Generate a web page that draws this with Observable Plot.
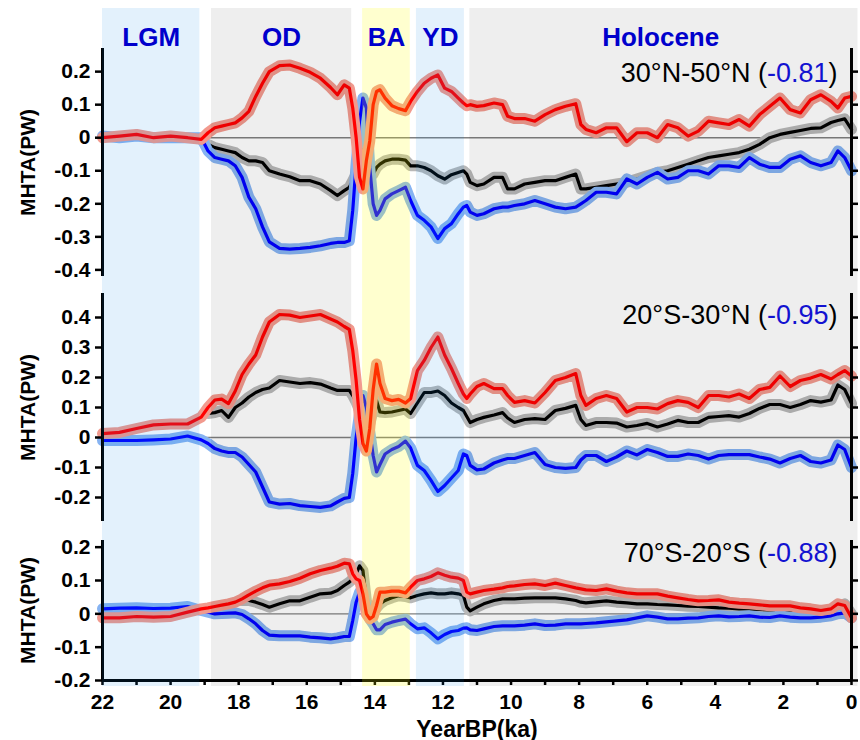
<!DOCTYPE html>
<html>
<head>
<meta charset="utf-8">
<script src="https://cdn.jsdelivr.net/npm/d3@7"></script>
<script src="https://cdn.jsdelivr.net/npm/@observablehq/plot@0.6"></script>
<style>
  body { margin: 0; background: #fff; }
  #chart { position: relative; width: 860px; height: 740px; }
  #chart > svg { position: absolute; left: 0; }
</style>
</head>
<body>
<div id="chart"></div>
<script>
// Time axis (ka BP), shared by every series
const years = [
  22, 21.5, 21, 20.5, 20, 19.5, 19.1, 18.9, 18.7, 18.5,
  18.3, 18.1, 17.9, 17.7, 17.5, 17.3, 17.1, 16.8, 16.5, 16.2,
  15.9, 15.6, 15.3, 15.1, 14.9, 14.75, 14.65, 14.55, 14.45, 14.35,
  14.25, 14.15, 14.05, 13.95, 13.85, 13.7, 13.5, 13.3, 13.1, 12.95,
  12.75, 12.55, 12.35, 12.15, 11.95, 11.75, 11.55, 11.4, 11.3, 11.2,
  11.0, 10.8, 10.5, 10.25, 10.1, 9.9, 9.6, 9.3, 9.0, 8.7,
  8.4, 8.1, 7.95, 7.8, 7.5, 7.2, 6.9, 6.6, 6.3, 6.0,
  5.7, 5.4, 5.1, 4.8, 4.5, 4.2, 3.9, 3.6, 3.3, 3.0,
  2.7, 2.4, 2.1, 1.8, 1.5, 1.2, 0.9, 0.6, 0.4, 0.2,
  0
];

// 30°N-50°N
const northRed = [
  0.0, 0.005, 0.01, 0.0, 0.005, 0.0, -0.005, 0.015, 0.03, 0.035,
  0.04, 0.045, 0.06, 0.08, 0.125, 0.165, 0.2, 0.218, 0.22, 0.21,
  0.198, 0.18, 0.152, 0.13, 0.16, 0.15, 0.09, 0.0, -0.12, -0.155,
  -0.07, -0.01, 0.1, 0.14, 0.145, 0.12, 0.097, 0.088, 0.082, 0.11,
  0.14, 0.165, 0.18, 0.19, 0.15, 0.14, 0.12, 0.105, 0.097, 0.1,
  0.095, 0.097, 0.105, 0.1, 0.065, 0.058, 0.058, 0.05, 0.07, 0.085,
  0.095, 0.103, 0.04, 0.025, 0.015, 0.03, 0.03, -0.012, 0.015, 0.015,
  0.0, 0.04, 0.03, 0.005, 0.02, 0.05, 0.045, 0.04, 0.055, 0.035,
  0.07, 0.095, 0.12, 0.085, 0.075, 0.115, 0.13, 0.11, 0.09, 0.12,
  0.125
];
const northBlack = [
  null, null, null, null, null, null, null, -0.02, -0.03, -0.035,
  -0.04, -0.045, -0.06, -0.07, -0.07, -0.075, -0.1, -0.11, -0.118, -0.13,
  -0.13, -0.14, -0.16, -0.175, -0.16, -0.15, -0.13, -0.11, -0.085, -0.035,
  -0.07, -0.1, -0.11, -0.09, -0.08, -0.07, -0.065, -0.065, -0.068, -0.085,
  -0.085, -0.09, -0.1, -0.115, -0.125, -0.112, -0.105, -0.1, -0.11, -0.135,
  -0.145, -0.14, -0.12, -0.12, -0.155, -0.155, -0.14, -0.135, -0.13, -0.13,
  -0.12, -0.11, -0.155, -0.155, -0.15, -0.145, -0.14, -0.135, -0.125, -0.115,
  -0.105, -0.1, -0.09, -0.08, -0.07, -0.06, -0.055, -0.05, -0.045, -0.035,
  -0.02, 0.0, 0.01, 0.016, 0.022, 0.028, 0.03, 0.046, 0.052, 0.057,
  0.025
];
const northBlue = [
  0.005, 0.0, 0.005, 0.0, 0.0, 0.0, 0.0, -0.04, -0.06, -0.065,
  -0.07, -0.085, -0.12, -0.18, -0.215, -0.27, -0.315, -0.335, -0.337, -0.335,
  -0.332, -0.327, -0.32, -0.317, -0.317, -0.312, -0.22, -0.08, 0.05, 0.12,
  0.09, -0.09, -0.2, -0.235, -0.22, -0.185, -0.17, -0.16, -0.15, -0.19,
  -0.235, -0.25, -0.27, -0.305, -0.275, -0.26, -0.23, -0.21, -0.205, -0.225,
  -0.235, -0.23, -0.215, -0.21, -0.21, -0.205, -0.2, -0.19, -0.2, -0.21,
  -0.215, -0.21, -0.2, -0.19, -0.165, -0.165, -0.17, -0.125, -0.14, -0.12,
  -0.105, -0.125, -0.12, -0.1, -0.1, -0.11, -0.085, -0.085, -0.09, -0.06,
  -0.08, -0.09, -0.09, -0.065, -0.055, -0.075, -0.085, -0.075, -0.04, -0.06,
  -0.1
];

// 20°S-30°N
const tropicRed = [
  0.013, 0.017, 0.03, 0.042, 0.045, 0.045, 0.068, 0.1, 0.125, 0.128,
  0.113, 0.155, 0.21, 0.245, 0.275, 0.335, 0.385, 0.41, 0.408, 0.4,
  0.405, 0.41, 0.395, 0.385, 0.37, 0.36, 0.29, 0.19, 0.06, -0.02,
  -0.045, 0.03, 0.16, 0.245, 0.18, 0.13, 0.123, 0.127, 0.115, 0.13,
  0.223, 0.257, 0.3, 0.335, 0.275, 0.23, 0.18, 0.145, 0.13, 0.145,
  0.17, 0.18, 0.163, 0.163, 0.14, 0.117, 0.123, 0.115, 0.15, 0.19,
  0.2, 0.213, 0.14, 0.107, 0.13, 0.14, 0.13, 0.085, 0.1, 0.1,
  0.095, 0.113, 0.123, 0.117, 0.1, 0.14, 0.14, 0.135, 0.145, 0.13,
  0.16, 0.167, 0.205, 0.17, 0.19, 0.198, 0.21, 0.195, 0.21, 0.223,
  0.205
];
const tropicBlack = [
  null, null, null, null, null, null, null, 0.08, 0.083, 0.09,
  0.067, 0.1, 0.115, 0.135, 0.15, 0.16, 0.165, 0.19, 0.185, 0.18,
  0.183, 0.178, 0.165, 0.157, 0.157, 0.157, 0.14, 0.118, 0.09, 0.083,
  0.06, 0.045, 0.09, 0.123, 0.085, 0.083, 0.085, 0.09, 0.095, 0.08,
  0.115, 0.15, 0.15, 0.155, 0.14, 0.115, 0.1, 0.09, 0.07, 0.05,
  0.06, 0.067, 0.075, 0.083, 0.065, 0.05, 0.06, 0.063, 0.06, 0.09,
  0.097, 0.107, 0.06, 0.04, 0.05, 0.05, 0.048, 0.035, 0.04, 0.047,
  0.035, 0.045, 0.057, 0.05, 0.05, 0.067, 0.07, 0.073, 0.068, 0.08,
  0.097, 0.11, 0.11, 0.1, 0.11, 0.123, 0.118, 0.125, 0.175, 0.16,
  0.113
];
const tropicBlue = [
  -0.01, -0.01, -0.01, -0.008, -0.005, 0.005, -0.008, -0.02, -0.037, -0.045,
  -0.05, -0.05, -0.065, -0.09, -0.115, -0.165, -0.215, -0.222, -0.22, -0.227,
  -0.23, -0.233, -0.228, -0.215, -0.203, -0.2, -0.12, 0.0, 0.08, 0.14,
  0.1, 0.02, -0.06, -0.115, -0.09, -0.055, -0.04, -0.03, -0.012, -0.035,
  -0.093, -0.11, -0.143, -0.18, -0.16, -0.135, -0.11, -0.055, -0.06, -0.093,
  -0.108, -0.105, -0.085, -0.075, -0.07, -0.07, -0.06, -0.05, -0.09, -0.1,
  -0.103, -0.1, -0.075, -0.06, -0.06, -0.08, -0.065, -0.045, -0.058, -0.04,
  -0.05, -0.063, -0.063, -0.055, -0.06, -0.072, -0.06, -0.057, -0.057, -0.057,
  -0.065, -0.072, -0.085, -0.07, -0.06, -0.08, -0.085, -0.075, -0.025, -0.04,
  -0.1
];

// 70°S-20°S
const southRed = [
  -0.012, -0.012, -0.008, -0.01, -0.008, 0.005, 0.015, 0.018, 0.022, 0.026,
  0.03, 0.035, 0.045, 0.057, 0.068, 0.078, 0.086, 0.09, 0.097, 0.107,
  0.12, 0.13, 0.137, 0.143, 0.152, 0.15, 0.12, 0.105, 0.1, 0.06,
  0.0, -0.015, -0.008, 0.025, 0.065, 0.065, 0.068, 0.068, 0.063, 0.08,
  0.1, 0.105, 0.112, 0.123, 0.116, 0.11, 0.107, 0.1, 0.065, 0.06,
  0.065, 0.07, 0.074, 0.078, 0.082, 0.084, 0.088, 0.09, 0.085, 0.092,
  0.085, 0.078, 0.075, 0.072, 0.07, 0.075, 0.068, 0.063, 0.06, 0.06,
  0.06, 0.053, 0.048, 0.043, 0.039, 0.04, 0.042, 0.035, 0.032, 0.03,
  0.027, 0.024, 0.024, 0.024, 0.018, 0.015, 0.01, 0.015, 0.03, 0.025,
  -0.012
];
const southBlack = [
  null, null, null, null, null, null, null, null, null, null,
  null, null, 0.04, 0.04, 0.035, 0.028, 0.02, 0.03, 0.039, 0.039,
  0.05, 0.06, 0.062, 0.07, 0.085, 0.095, 0.105, 0.12, 0.144, 0.13,
  0.04, 0.0, 0.005, 0.018, 0.03, 0.04, 0.048, 0.054, 0.052, 0.048,
  0.055, 0.06, 0.063, 0.06, 0.06, 0.063, 0.06, 0.055, 0.02, 0.009,
  0.02, 0.03, 0.04, 0.045, 0.045, 0.045, 0.047, 0.048, 0.048, 0.048,
  0.045, 0.04, 0.035, 0.033, 0.036, 0.039, 0.035, 0.033, 0.03, 0.03,
  0.028, 0.027, 0.025, 0.023, 0.022, 0.02, 0.018, 0.017, 0.015, 0.015,
  0.013, 0.012, 0.01, 0.008, 0.006, 0.005, 0.005, 0.01, 0.02, 0.03,
  0.0
];
const southBlue = [
  0.015, 0.017, 0.018, 0.016, 0.017, 0.022, 0.01, 0.005, 0.0, 0.001,
  0.002, 0.003, -0.002, -0.015, -0.03, -0.05, -0.064, -0.066, -0.066, -0.066,
  -0.07, -0.072, -0.075, -0.072, -0.068, -0.068, -0.02, 0.035, 0.065, 0.05,
  0.02, -0.015, -0.03, -0.048, -0.048, -0.032, -0.025, -0.02, -0.016, -0.03,
  -0.045, -0.042, -0.057, -0.075, -0.062, -0.053, -0.05, -0.043, -0.042, -0.048,
  -0.05, -0.045, -0.038, -0.036, -0.036, -0.036, -0.034, -0.03, -0.035, -0.034,
  -0.03, -0.03, -0.03, -0.029, -0.027, -0.024, -0.021, -0.018, -0.012, -0.006,
  -0.01, -0.015, -0.015, -0.013, -0.012, -0.008, -0.006, -0.009, -0.008, -0.006,
  -0.01, -0.011, -0.006, -0.01, -0.012, -0.012, -0.01, -0.006, 0.0, 0.003,
  -0.012
];

// Latitude bands and their correlation coefficients
const regions = ["30°N-50°N", "20°S-30°N", "70°S-20°S"];
const correlations = ["-0.81", "-0.95", "-0.88"];

// Climate periods (ka BP)
const periodNames = ["LGM", "OD", "BA", "YD", "Holocene"];
const periodStart = [22, 18.8, 14.36, 12.78, 11.21];
const periodEnd = [19.14, 14.68, 12.96, 11.37, -0.19];

// Axis ticks
const ticksNorth = [-0.4, -0.3, -0.2, -0.1, 0, 0.1, 0.2];
const ticksTropic = [-0.2, -0.1, 0, 0.1, 0.2, 0.3, 0.4];
const ticksSouth = [-0.2, -0.1, 0, 0.1, 0.2];
const yearTicks = [22, 20, 18, 16, 14, 12, 10, 8, 6, 4, 2, 0];
const yearMinorTicks = d3.range(0, 23, 1);

// ---------------------------------------------------------------
const allSeries = {northRed, northBlack, northBlue, tropicRed, tropicBlack, tropicBlue, southRed, southBlack, southBlue};
for (const [name, arr] of Object.entries(allSeries)) {
  if (arr.length !== years.length) throw new Error(`${name} has ${arr.length} values, expected ${years.length}`);
}

const FONT = '"Liberation Sans", Arial, Helvetica, sans-serif';
const W = 860, ML = 102, MR = 9;
const xDomain = [22, 0];
const colors = {
  red: "#ff0000", redLight: "#f29a8e",
  black: "#000000", blackLight: "#b8b8b8",
  blue: "#0000ff", blueLight: "#86b3f2"
};
const numberBlue = "#1414e0";
const labelBlue = "#0000cc";

const rows = (vals) => years.map((t, i) => ({t, v: vals[i]}));
const fmt = (d) => (Math.abs(d) < 1e-9 ? "0" : d.toFixed(1));

const panels = [
  {region: regions[0], r: correlations[0], red: northRed, black: northBlack, blue: northBlue,
   domain: [-0.42, 0.27], ticks: ticksNorth, top: 0, height: 290, mt: 48, mb: 14, titleDy: 33},
  {region: regions[1], r: correlations[1], red: tropicRed, black: tropicBlack, blue: tropicBlue,
   domain: [-0.28, 0.48], ticks: ticksTropic, top: 280, height: 260, mt: 13, mb: 19, titleDy: 30},
  {region: regions[2], r: correlations[2], red: southRed, black: southBlack, blue: southBlue,
   domain: [-0.2, 0.22], ticks: ticksSouth, top: 510, height: 230, mt: 30, mb: 60, titleDy: 21, bottom: true}
];

const chart = document.getElementById("chart");

// each series: a broad pale trace under a bold line of the same values
function seriesMarks(vals, light, dark) {
  const data = rows(vals);
  return [
    Plot.line(data, {x: "t", y: "v", stroke: light, strokeWidth: 11, strokeLinejoin: "round"}),
    Plot.line(data, {x: "t", y: "v", stroke: dark, strokeWidth: 3.2, strokeLinejoin: "round"})
  ];
}

function drawPanel(p) {
  const title = `${p.region} (${p.r})`;
  const marks = [
    Plot.ruleY([0], {stroke: "#808080", strokeWidth: 1.4}),
    ...seriesMarks(p.black, colors.blackLight, colors.black),
    ...seriesMarks(p.blue, colors.blueLight, colors.blue),
    ...seriesMarks(p.red, colors.redLight, colors.red),
    Plot.ruleX([22, 0], {stroke: "#000", strokeWidth: 3}),
    Plot.axisY({ticks: p.ticks, tickSize: 7, tickPadding: 5, strokeWidth: 2.5, tickFormat: fmt,
      fontSize: 21, fontWeight: "bold", label: "MHTA(PW)", labelAnchor: "center", labelOffset: 82, labelArrow: false}),
    Plot.axisY({anchor: "right", ticks: p.ticks, tickSize: 6, strokeWidth: 2.5, tickFormat: () => "", label: null}),
    Plot.text([title], {text: (d) => d, frameAnchor: "top-right", dx: -14, dy: p.titleDy,
      lineAnchor: "bottom", fontSize: 27, fontWeight: "normal", fill: "#000"})
  ];
  if (p.bottom) {
    marks.push(
      Plot.ruleY([p.domain[0]], {stroke: "#000", strokeWidth: 3}),
      Plot.axisX({ticks: yearMinorTicks, tickSize: 5, strokeWidth: 2.5, tickFormat: () => "", label: null}),
      Plot.axisX({ticks: yearTicks, tickSize: 0, tickPadding: 14, tickFormat: (d) => String(d),
        fontSize: 21, fontWeight: "bold", label: null}),
      Plot.text(["YearBP(ka)"], {text: (d) => d, frameAnchor: "bottom", dy: 56, lineAnchor: "bottom",
        fontSize: 23, fontWeight: "bold", fill: "#000"})
    );
  }
  const svg = Plot.plot({
    width: W, height: p.height,
    marginLeft: ML, marginRight: MR, marginTop: p.mt, marginBottom: p.mb,
    style: {fontFamily: FONT, background: "transparent", overflow: "visible", color: "#000"},
    x: {domain: xDomain, axis: null},
    y: {domain: p.domain},
    marks
  });
  svg.style.top = p.top + "px";

  // colour the correlation coefficient inside the region title
  const el = [...svg.querySelectorAll("text")].find((e) => e.textContent === title);
  if (el) {
    const t = d3.select(el);
    t.text(null);
    t.append("tspan").attr("fill", "#000").text(`${p.region} (`);
    t.append("tspan").attr("fill", numberBlue).text(p.r);
    t.append("tspan").attr("fill", "#000").text(")");
  }
  chart.appendChild(svg);
}

panels.forEach(drawPanel);

// Period shading, laid over the curves as translucent washes
const periods = periodNames.map((name, i) => ({name, start: periodStart[i], end: periodEnd[i]}));
const washFill = {LGM: "rgb(0,128,230)", YD: "rgb(0,128,230)", OD: "#000", Holocene: "#000", BA: "#ffff00"};
const washOpacity = {LGM: 0.11, YD: 0.11, OD: 0.066, Holocene: 0.066, BA: 0.19};

const overlay = Plot.plot({
  width: W, height: 740,
  marginLeft: ML, marginRight: MR, marginTop: 8, marginBottom: 54,
  style: {fontFamily: FONT, background: "transparent", overflow: "visible", pointerEvents: "none"},
  x: {domain: xDomain, axis: null},
  marks: [
    Plot.rect(periods, {x1: "start", x2: "end", fill: (d) => washFill[d.name], fillOpacity: (d) => washOpacity[d.name]}),
    Plot.text(periods, {x: (d) => (d.start + Math.max(d.end, 0)) / 2, text: "name", frameAnchor: "top", dy: 19,
      fill: labelBlue, fontSize: 26, fontWeight: "bold"})
  ]
});
overlay.style.top = "0px";
chart.appendChild(overlay);
</script>
</body>
</html>
